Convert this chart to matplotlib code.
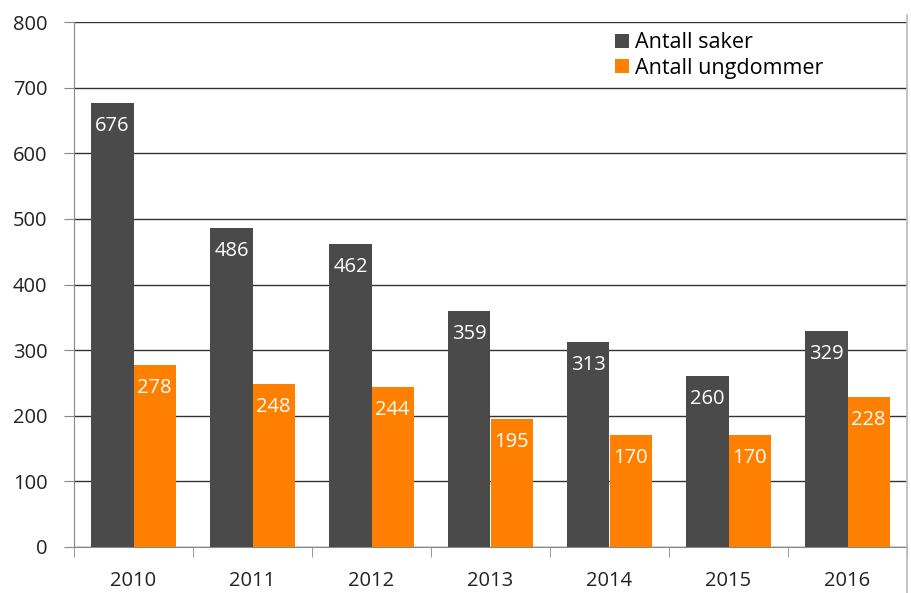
import matplotlib
matplotlib.use("Agg")
import matplotlib.pyplot as plt
import numpy as np

years = ["2010", "2011", "2012", "2013", "2014", "2015", "2016"]
saker = [676, 486, 462, 359, 313, 260, 329]
ungdommer = [278, 248, 244, 195, 170, 170, 228]
series_names = ["Antall saker", "Antall ungdommer"]

plt.rcParams['font.family'] = ['Open Sans', 'DejaVu Sans']

fig = plt.figure(figsize=(9.11, 5.93), dpi=100)
ax = fig.add_axes([74/911, 46/593, 833/911, 525/593])

x = np.arange(len(years))
w = 0.355
dark = "#4a4a4a"
orange = "#ff7f00"
b1 = ax.bar(x - w/2, saker, w, color=dark, label=series_names[0], zorder=3)
b2 = ax.bar(x + w/2, ungdommer, w, color=orange, label=series_names[1], zorder=3)

for bars, vals in ((b1, saker), (b2, ungdommer)):
    for r, v in zip(bars, vals):
        ax.annotate(str(v), (r.get_x() + r.get_width()/2, v), xytext=(0, -23),
                    textcoords="offset pixels",
                    ha="center", va="center", color="white", fontsize=14.5, zorder=4)

ax.set_xlim(-0.5, len(years) - 0.5)
ax.set_ylim(0, 800)
ax.set_yticks(np.arange(0, 801, 100))
ax.yaxis.grid(True, color="#333333", linewidth=1.0, zorder=0)
ax.set_axisbelow(True)

ax.set_xticks(x)
ax.set_xticklabels(years)
ax.set_xticks(np.arange(-0.5, len(years), 1), minor=True)
ax.tick_params(axis="x", which="major", length=0, pad=17, labelsize=14.5, colors="#222222")
ax.tick_params(axis="x", which="minor", length=7, color="#888888", direction="out")
ax.tick_params(axis="y", length=7, color="#888888", labelsize=14.5, pad=12)
for lab in ax.get_yticklabels():
    lab.set_color("#222222")

for s in ("top", "right"):
    ax.spines[s].set_visible(False)
ax.spines["left"].set_color("#888888")
ax.spines["bottom"].set_color("#888888")

leg = ax.legend(loc="upper left", bbox_to_anchor=(527/833, 1.007), frameon=False,
                fontsize=15.5, handlelength=0.65, handleheight=0.65,
                handletextpad=0.3, labelspacing=0.2, borderaxespad=0.25)

# chart right border
fig.add_artist(plt.Line2D([907/911, 907/911], [0, 1 - 15/593], color="#bbbbbb", lw=1.2))

fig.savefig("out.png", dpi=100)
